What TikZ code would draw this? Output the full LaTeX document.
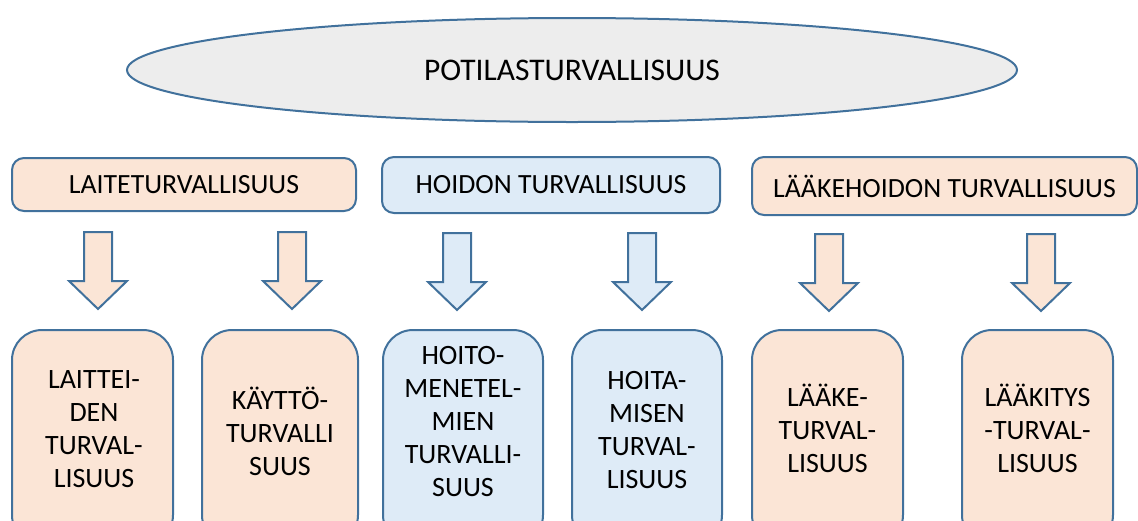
\documentclass[tikz,border=0pt]{standalone}
\usepackage{fontspec}
\setmainfont{Carlito}
\usetikzlibrary{shapes.geometric}
\definecolor{peach}{HTML}{FBE5D6}
\definecolor{paleblue}{HTML}{DEEBF7}
\definecolor{ellgray}{HTML}{EDEDED}
\definecolor{bordc}{HTML}{41719C}
\tikzset{
  blockarrow/.pic={
    \path[draw=bordc, line width=2pt, line join=miter, fill=#1]
      (-14,0) -- (14,0) -- (14,49) -- (29,49) -- (0,77) -- (-29,49) -- (-14,49) -- cycle;
  }
}
\begin{document}
\begin{tikzpicture}[x=1pt,y=-1pt,
  topell/.style={ellipse, draw=bordc, line width=2pt, fill=ellgray, inner sep=0pt,
    font=\fontsize{31.5}{36}\selectfont},
  catbox/.style={draw=bordc, line width=2pt, rounded corners=12pt, inner sep=0pt,
    font=\fontsize{27.8}{32}\selectfont},
  botbox/.style={draw=bordc, line width=2pt, rounded corners=30pt, inner sep=0pt},
  bottext/.style={align=center, inner sep=0pt, font=\fontsize{28}{33}\selectfont}
]
\useasboundingbox (0,0) rectangle (1138,520);
\clip (0,0) rectangle (1138,520);

% top ellipse
\node[topell, minimum width=890, minimum height=104] (top) at (572,70) {POTILASTURVALLISUUS};

% category boxes
\node[catbox, fill=peach, minimum width=344, minimum height=53] (laite) at (184,184.5) {LAITETURVALLISUUS};
\node[catbox, fill=paleblue, minimum width=338, minimum height=56] (hoito) at (551,185) {HOIDON TURVALLISUUS};
\node[catbox, fill=peach, minimum width=385, minimum height=58] (laake) at (944.5,186) {LÄÄKEHOIDON TURVALLISUUS};

% block arrows
\pic at (98,232) {blockarrow=peach};
\pic at (292,232) {blockarrow=peach};
\pic at (457,233) {blockarrow=paleblue};
\pic at (642,233) {blockarrow=paleblue};
\pic at (829,234) {blockarrow=peach};
\pic at (1041,234) {blockarrow=peach};

% bottom boxes
\node[botbox, fill=peach, minimum width=161, minimum height=215] (b1) at (92.5,437.5) {};
\node[botbox, fill=peach, minimum width=156, minimum height=215] (b2) at (280,437.5) {};
\node[botbox, fill=paleblue, minimum width=160, minimum height=215] (b3) at (463,437.5) {};
\node[botbox, fill=paleblue, minimum width=150, minimum height=215] (b4) at (647,437.5) {};
\node[botbox, fill=peach, minimum width=151, minimum height=215] (b5) at (827.5,437.5) {};
\node[botbox, fill=peach, minimum width=151, minimum height=215] (b6) at (1037.5,437.5) {};

\node[bottext] (t1) at (94,429) {LAITTEI-\\DEN\\TURVAL-\\LISUUS};
\node[bottext] (t2) at (280,431) {KÄYTTÖ-\\TURVALLI\\SUUS};
\node[bottext] (t3) at (463,422) {HOITO-\\MENETEL-\\MIEN\\TURVALLI-\\SUUS};
\node[bottext] (t4) at (647,430) {HOITA-\\MISEN\\TURVAL-\\LISUUS};
\node[bottext] (t5) at (827.5,428) {LÄÄKE-\\TURVAL-\\LISUUS};
\node[bottext] (t6) at (1037.5,428) {LÄÄKITYS\\-TURVAL-\\LISUUS};
\end{tikzpicture}
\end{document}
